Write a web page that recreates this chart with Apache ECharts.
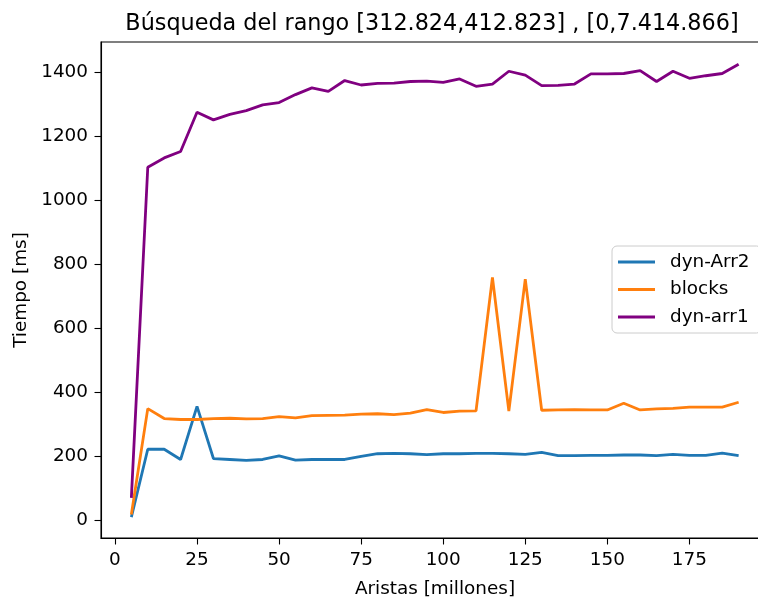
<!DOCTYPE html>
<html>
<head>
<meta charset="utf-8">
<script src="https://cdn.jsdelivr.net/npm/echarts@6/dist/echarts.min.js"></script>
<style>
  html, body { margin: 0; padding: 0; background: #fff; }
  #chart { width: 758px; height: 598px; }
</style>
</head>
<body>
<div id="chart"></div>
<script>
// eje x: aristas (millones)
var aristas = [5, 10, 15, 20, 25, 30, 35, 40, 45, 50, 55, 60, 65, 70, 75, 80, 85, 90, 95,
    100, 105, 110, 115, 120, 125, 130, 135, 140, 145, 150, 155, 160, 165, 170, 175, 180, 185, 190];

// tiempos (ms)
var dynArr2 = [10, 222, 222, 190, 356, 193, 190, 187, 190, 201, 188, 190, 190, 190, 200, 208, 209, 208, 205,
    208, 208, 209, 209, 208, 206, 212, 202, 202, 203, 203, 204, 204, 202, 206, 203, 203, 210, 202];
var blocks = [18, 349, 318, 315, 315, 318, 319, 317, 318, 324, 320, 327, 328, 329, 332, 333, 330, 335, 346,
    337, 341, 342, 759, 341, 754, 344, 345, 346, 345, 345, 366, 345, 348, 350, 354, 354, 354, 369];
var dynArr1 = [70, 1104, 1133, 1153, 1276, 1252, 1269, 1281, 1299, 1306, 1331, 1352, 1341, 1375, 1361, 1366, 1367, 1372, 1373,
    1369, 1380, 1357, 1364, 1404, 1392, 1359, 1360, 1364, 1396, 1396, 1397, 1406, 1372, 1404, 1382, 1390, 1397, 1426];

var xTicks = [0, 25, 50, 75, 100, 125, 150, 175];
var yTicks = [0, 200, 400, 600, 800, 1000, 1200, 1400];

var nombres = ['dyn-Arr2', 'blocks', 'dyn-arr1'];
var colores = ['#1f77b4', '#ff7f0e', '#800080'];

function pares(ys) {
    var out = [];
    for (var i = 0; i < aristas.length; i++) {
        out.push([aristas[i], ys[i]]);
    }
    return out;
}

var fuente = 'DejaVu Sans';
var myChart = echarts.init(document.getElementById('chart'));

var serie = function (idx, datos) {
    return {
        name: nombres[idx],
        type: 'line',
        data: pares(datos),
        symbol: 'none',
        animation: false,
        lineStyle: { color: colores[idx], width: 2.8 },
        itemStyle: { color: colores[idx] }
    };
};

var option = {
    backgroundColor: '#fff',
    animation: false,
    color: colores,
    title: {
        text: 'Búsqueda del rango [312.824,412.823] , [0,7.414.866]',
        left: 427,
        textAlign: 'center',
        top: 8,
        textStyle: { fontFamily: fuente, fontSize: 22.3, fontWeight: 'normal', color: '#000' }
    },
    // el area de dibujo sigue mas alla del borde derecho (imagen recortada)
    grid: {
        left: 101,
        width: 668,
        top: 42,
        height: 496,
        show: true,
        borderColor: '#000',
        borderWidth: 1.1,
        containLabel: false,
        outerBoundsMode: 'none'
    },
    legend: {
        orient: 'vertical',
        left: 612,
        top: 246,
        data: nombres,
        icon: 'rect',
        itemWidth: 37,
        itemHeight: 2.8,
        itemGap: 9.5,
        padding: [7, 12, 7, 6],
        borderColor: '#cccccc',
        borderWidth: 1,
        borderRadius: 5,
        backgroundColor: 'rgba(255,255,255,0.8)',
        textStyle: { fontFamily: fuente, fontSize: 18.4, lineHeight: 18, color: '#000', padding: [0, 0, 0, 10] }
    },
    xAxis: {
        type: 'value',
        min: -4.25,
        max: 199.25,
        name: 'Aristas [millones]',
        nameLocation: 'middle',
        nameGap: 42,
        nameTextStyle: { fontFamily: fuente, fontSize: 18.4, color: '#000' },
        axisLine: { show: true, onZero: false, lineStyle: { color: '#000', width: 1.1 } },
        axisTick: { show: true, length: 6.5, customValues: xTicks, lineStyle: { color: '#000', width: 1.1 } },
        axisLabel: { customValues: xTicks, margin: 13, fontFamily: fuente, fontSize: 18.4, color: '#000' },
        splitLine: { show: false }
    },
    yAxis: {
        type: 'value',
        min: -55.5,
        max: 1495.5,
        name: 'Tiempo [ms]',
        nameLocation: 'middle',
        nameRotate: 90,
        nameGap: 59,
        nameTextStyle: { fontFamily: fuente, fontSize: 18.4, color: '#000' },
        axisLine: { show: true, onZero: false, lineStyle: { color: '#000', width: 1.1 } },
        axisTick: { show: true, length: 6.5, customValues: yTicks, lineStyle: { color: '#000', width: 1.1 } },
        axisLabel: {
            customValues: yTicks,
            margin: 13,
            fontFamily: fuente,
            fontSize: 18.4,
            color: '#000',
            formatter: function (v) { return String(v); }
        },
        splitLine: { show: false }
    },
    series: [
        serie(0, dynArr2),
        serie(1, blocks),
        serie(2, dynArr1)
    ]
};
myChart.setOption(option);
</script>
</body>
</html>
